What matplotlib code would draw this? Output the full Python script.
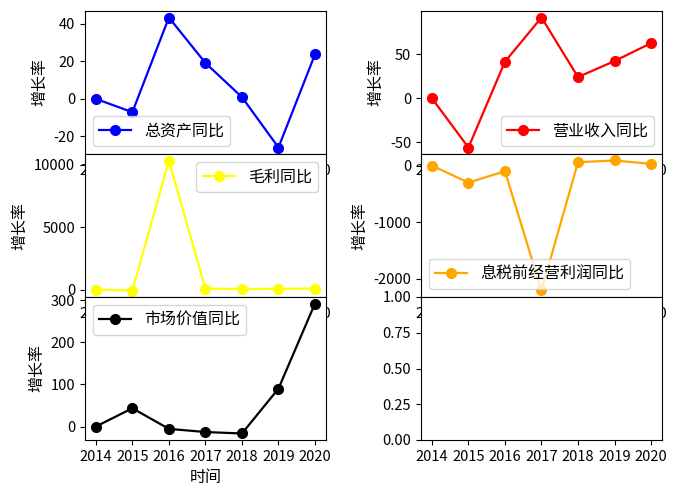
import matplotlib
matplotlib.use("Agg")
import matplotlib.pyplot as plt

plt.rcParams['font.family'] = ['Noto Sans CJK SC', 'DejaVu Sans']
plt.rcParams['axes.unicode_minus'] = False
plt.rcParams['font.size'] = 10.5
plt.rcParams['legend.fontsize'] = 11.5
plt.rcParams['axes.labelsize'] = 11.5

years = [2014, 2015, 2016, 2017, 2018, 2019, 2020]
total_assets = [0, -7.1, 43.3, 19.1, 0.9, -25.9, 23.7]
revenue = [0, -56, 41.7, 92, 24.2, 42.4, 62.8]
gross_profit = [0, -80, 10350, 60, 40, 50, 80]
ebit = [0, -300, -100, -2206, 60, 90, 30]
market_value = [0, 43.4, -5.5, -13, -16.5, 90, 292]

series = [
    (total_assets, 'blue', '总资产同比', 'lower left'),
    (revenue, 'red', '营业收入同比', 'lower right'),
    (gross_profit, 'yellow', '毛利同比', 'upper right'),
    (ebit, 'orange', '息税前经营利润同比', 'lower left'),
    (market_value, 'black', '市场价值同比', 'upper left'),
]

fig, axes = plt.subplots(3, 2, figsize=(6.79, 5.0), dpi=100)
fig.subplots_adjust(left=0.125, right=0.975, bottom=0.12, top=0.978,
                    wspace=0.394, hspace=0)
flat = axes.flatten()
for ax, (vals, color, label, loc) in zip(flat, series):
    ax.plot(years, vals, color=color, marker='o', markersize=7,
            linewidth=1.6, label=label)
    ax.set_xticks(years)
    ax.set_ylabel('增长率')
    ax.legend(loc=loc)

flat[2].set_yticks([0, 5000, 10000])
flat[4].set_xlabel('时间')
flat[5].set_xticks(years)
flat[5].set_xlim(flat[4].get_xlim())
flat[5].set_ylim(0, 1)
flat[5].set_yticks([0, 0.25, 0.5, 0.75, 1.0])

fig.savefig('out.png', dpi=100)
